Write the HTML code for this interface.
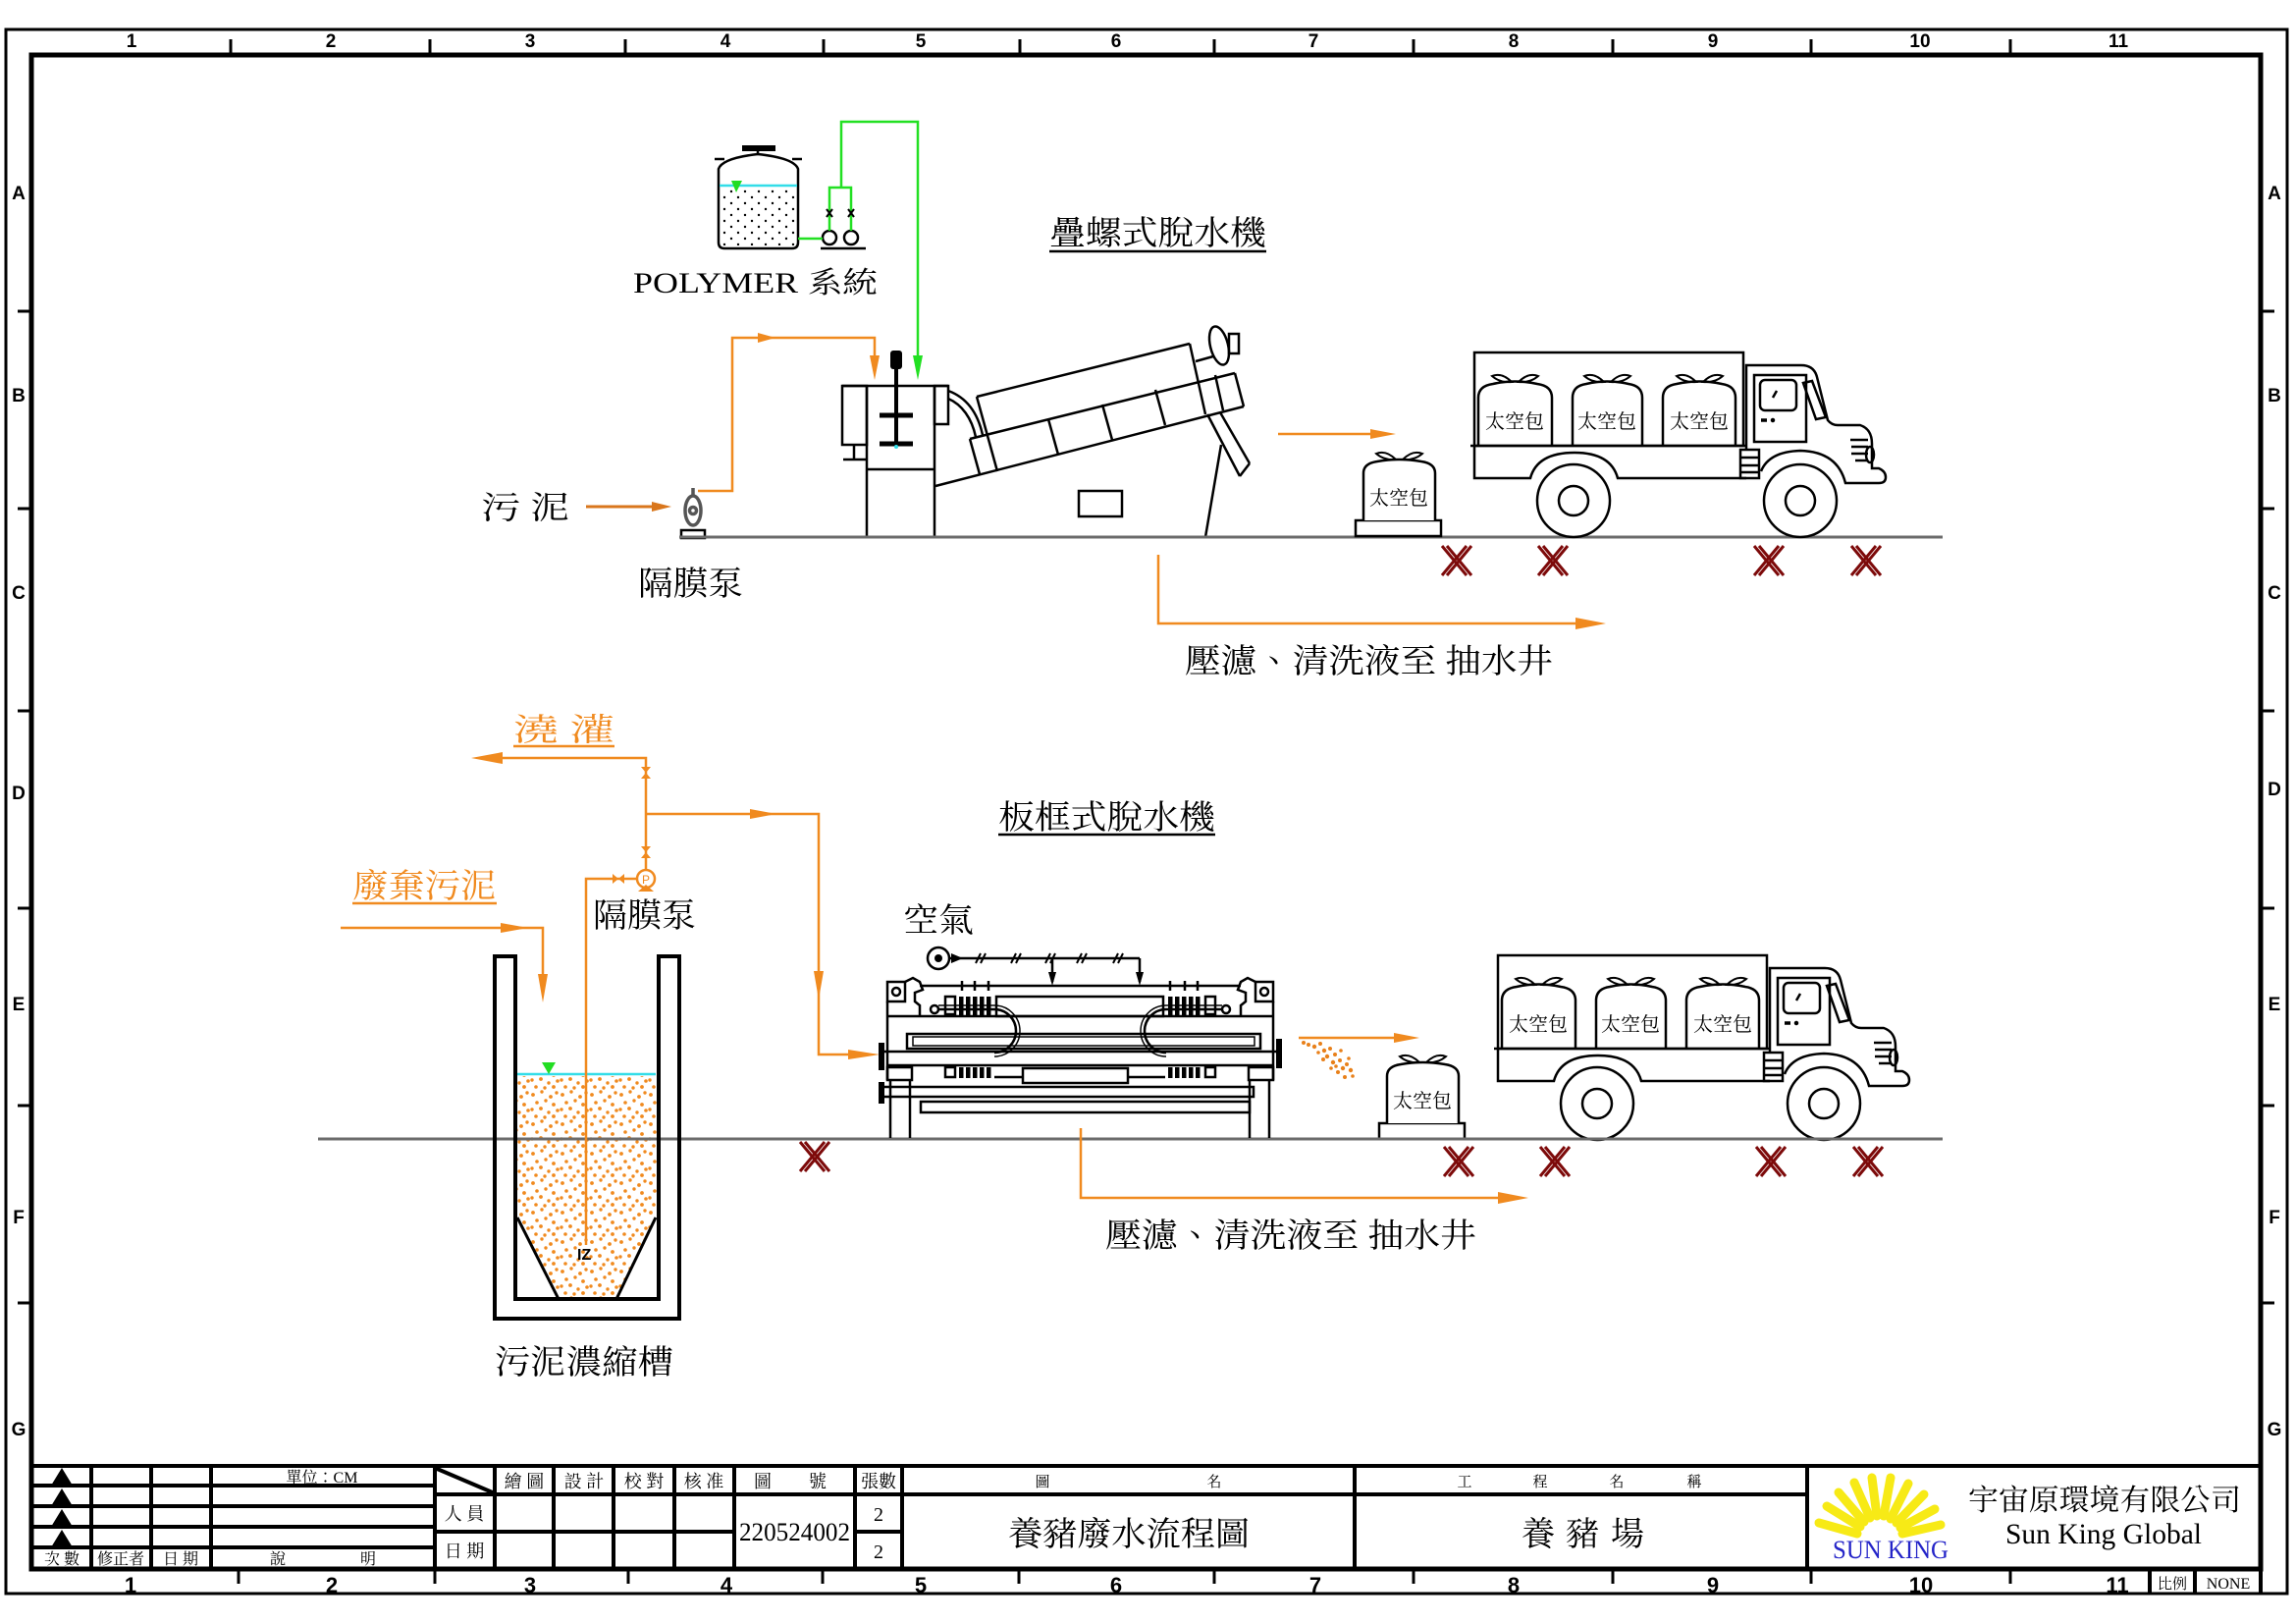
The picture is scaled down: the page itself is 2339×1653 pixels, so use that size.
<!DOCTYPE html>
<html><head><meta charset="utf-8"><title>養豬廢水流程圖</title>
<style>
html,body{margin:0;padding:0;background:#fff;}
svg{display:block;}
.s{font-family:"Liberation Serif","Noto Serif CJK TC","Noto Serif CJK SC",serif;}
.b{font-family:"Liberation Sans",sans-serif;font-weight:bold;}
</style></head>
<body>
<svg xmlns="http://www.w3.org/2000/svg" width="2339" height="1653" viewBox="0 0 2339 1653">
<defs>
<pattern id="sl" width="30" height="30" patternUnits="userSpaceOnUse">
<g fill="#f08a1f">
<circle cx="3" cy="5" r="1.9"/><circle cx="12" cy="2" r="1.7"/><circle cx="21" cy="7" r="1.9"/><circle cx="27" cy="3" r="1.7"/>
<circle cx="7" cy="13" r="1.8"/><circle cx="16" cy="11" r="1.7"/><circle cx="24" cy="15" r="1.9"/>
<circle cx="2" cy="20" r="1.7"/><circle cx="11" cy="19" r="1.9"/><circle cx="19" cy="23" r="1.7"/><circle cx="28" cy="21" r="1.8"/>
<circle cx="6" cy="27" r="1.8"/><circle cx="15" cy="28" r="1.7"/><circle cx="24" cy="27" r="1.9"/>
</g>
</pattern>
<pattern id="pd" width="14" height="12" patternUnits="userSpaceOnUse">
<circle cx="3" cy="3" r="1.2" fill="#000"/><circle cx="10" cy="9" r="1.2" fill="#000"/>
</pattern>
<clipPath id="tankclip"><polygon points="527,1096 669,1096 669,1240 628,1321 569,1321 527,1240"/></clipPath>
</defs>

<!-- FRAME -->
<rect x="6" y="30" width="2324" height="1593" fill="none" stroke="#000" stroke-width="3"/>
<rect x="32" y="56" width="2271" height="1542" fill="none" stroke="#000" stroke-width="5"/>
<line x1="2303" y1="1598" x2="2303" y2="1623" stroke="#000" stroke-width="4"/>

<g class="b" font-size="19" text-anchor="middle">
<text x="134" y="48">1</text><text x="337" y="48">2</text><text x="540" y="48">3</text><text x="739" y="48">4</text><text x="938" y="48">5</text><text x="1137" y="48">6</text><text x="1338" y="48">7</text><text x="1542" y="48">8</text><text x="1745" y="48">9</text><text x="1956" y="48">10</text><text x="2158" y="48">11</text>
</g>
<g stroke="#000" stroke-width="3">
<line x1="235" y1="40" x2="235" y2="56"/><line x1="438" y1="40" x2="438" y2="56"/><line x1="637" y1="40" x2="637" y2="56"/><line x1="839" y1="40" x2="839" y2="56"/><line x1="1039" y1="40" x2="1039" y2="56"/><line x1="1237" y1="40" x2="1237" y2="56"/><line x1="1440" y1="40" x2="1440" y2="56"/><line x1="1643" y1="40" x2="1643" y2="56"/><line x1="1845" y1="40" x2="1845" y2="56"/><line x1="2048" y1="40" x2="2048" y2="56"/>
<line x1="243" y1="1598" x2="243" y2="1613"/><line x1="443" y1="1598" x2="443" y2="1613"/><line x1="640" y1="1598" x2="640" y2="1613"/><line x1="838" y1="1598" x2="838" y2="1613"/><line x1="1038" y1="1598" x2="1038" y2="1613"/><line x1="1237" y1="1598" x2="1237" y2="1613"/><line x1="1440" y1="1598" x2="1440" y2="1613"/><line x1="1643" y1="1598" x2="1643" y2="1613"/><line x1="1845" y1="1598" x2="1845" y2="1613"/><line x1="2048" y1="1598" x2="2048" y2="1613"/>
<line x1="18" y1="317" x2="32" y2="317"/><line x1="18" y1="518" x2="32" y2="518"/><line x1="18" y1="724" x2="32" y2="724"/><line x1="18" y1="925" x2="32" y2="925"/><line x1="18" y1="1126" x2="32" y2="1126"/><line x1="18" y1="1327" x2="32" y2="1327"/>
<line x1="2303" y1="317" x2="2317" y2="317"/><line x1="2303" y1="518" x2="2317" y2="518"/><line x1="2303" y1="724" x2="2317" y2="724"/><line x1="2303" y1="925" x2="2317" y2="925"/><line x1="2303" y1="1126" x2="2317" y2="1126"/><line x1="2303" y1="1327" x2="2317" y2="1327"/>
</g>
<g class="b" font-size="22" text-anchor="middle">
<text x="133" y="1622">1</text><text x="338" y="1622">2</text><text x="540" y="1622">3</text><text x="740" y="1622">4</text><text x="938" y="1622">5</text><text x="1137" y="1622">6</text><text x="1340" y="1622">7</text><text x="1542" y="1622">8</text><text x="1745" y="1622">9</text><text x="1957" y="1622">10</text><text x="2157" y="1622">11</text>
</g>
<g class="b" font-size="19" text-anchor="middle">
<text x="19" y="203">A</text><text x="19" y="409">B</text><text x="19" y="610">C</text><text x="19" y="814">D</text><text x="19" y="1029">E</text><text x="19" y="1246">F</text><text x="19" y="1462">G</text>
<text x="2317" y="203">A</text><text x="2317" y="409">B</text><text x="2317" y="610">C</text><text x="2317" y="810">D</text><text x="2317" y="1029">E</text><text x="2317" y="1246">F</text><text x="2317" y="1462">G</text>
</g>

<!-- TITLE BLOCK -->
<g stroke="#000" stroke-width="4" fill="none">
<line x1="32" y1="1493" x2="2303" y2="1493"/>
<line x1="32" y1="1513" x2="443" y2="1513"/><line x1="32" y1="1534" x2="443" y2="1534"/><line x1="32" y1="1555" x2="443" y2="1555"/><line x1="32" y1="1576" x2="443" y2="1576"/>
<line x1="443" y1="1522" x2="1841" y2="1522"/>
<line x1="443" y1="1560" x2="748" y2="1560"/><line x1="871" y1="1560" x2="919" y2="1560"/>
<line x1="93" y1="1493" x2="93" y2="1598"/><line x1="154" y1="1493" x2="154" y2="1598"/><line x1="215" y1="1493" x2="215" y2="1598"/>
<line x1="443" y1="1493" x2="443" y2="1598"/><line x1="504" y1="1493" x2="504" y2="1598"/><line x1="564" y1="1493" x2="564" y2="1598"/><line x1="625" y1="1493" x2="625" y2="1598"/><line x1="687" y1="1493" x2="687" y2="1598"/><line x1="748" y1="1493" x2="748" y2="1598"/><line x1="871" y1="1493" x2="871" y2="1598"/><line x1="919" y1="1493" x2="919" y2="1598"/><line x1="1380" y1="1493" x2="1380" y2="1598"/><line x1="1841" y1="1493" x2="1841" y2="1598"/>
<line x1="443" y1="1495" x2="504" y2="1521"/>
<line x1="2190" y1="1598" x2="2190" y2="1623"/><line x1="2236" y1="1598" x2="2236" y2="1623"/>
</g>
<g fill="#000">
<polygon points="63,1495 52,1513 74,1513"/><polygon points="63,1516 52,1534 74,1534"/><polygon points="63,1537 52,1555 74,1555"/><polygon points="63,1558 52,1576 74,1576"/>
</g>
<g class="s" font-size="16" text-anchor="middle" fill="#000">
<text x="328" y="1510">單位：CM</text>
<text x="63" y="1593">次 數</text><text x="123" y="1593">修正者</text><text x="184" y="1593">日 期</text><text x="283" y="1593">說</text><text x="375" y="1593">明</text>
</g>
<g class="s" font-size="18" text-anchor="middle" fill="#000">
<text x="473" y="1548">人 員</text><text x="473" y="1586">日 期</text>
<text x="534" y="1515">繪 圖</text><text x="595" y="1515">設 計</text><text x="656" y="1515">校 對</text><text x="717" y="1515">核 准</text><text x="777" y="1515">圖</text><text x="833" y="1515">號</text><text x="895" y="1515">張數</text>
</g>
<text class="s" x="753" y="1569" font-size="26" textLength="113" lengthAdjust="spacingAndGlyphs">220524002</text>
<text class="s" x="895" y="1549" font-size="20" text-anchor="middle">2</text>
<text class="s" x="895" y="1587" font-size="20" text-anchor="middle">2</text>
<g class="s" font-size="15" text-anchor="middle">
<text x="1062" y="1514">圖</text><text x="1237" y="1514">名</text>
<text x="1492" y="1514">工</text><text x="1569" y="1514">程</text><text x="1647" y="1514">名</text><text x="1726" y="1514">稱</text>
</g>
<text class="s" x="1027" y="1574" font-size="34" textLength="246" lengthAdjust="spacingAndGlyphs">養豬廢水流程圖</text>
<g class="s" font-size="34" text-anchor="middle"><text x="1567" y="1574">養</text><text x="1612" y="1574">豬</text><text x="1658" y="1574">場</text></g>
<!-- logo -->
<g stroke="#f7ea16" stroke-width="9" stroke-linecap="round">
<line x1="1892" y1="1562" x2="1853" y2="1551"/><line x1="1895" y1="1555" x2="1861" y2="1534"/><line x1="1899" y1="1550" x2="1873" y2="1520"/><line x1="1905" y1="1546" x2="1889" y2="1510"/><line x1="1912" y1="1544" x2="1907" y2="1505"/><line x1="1919" y1="1544" x2="1926" y2="1505"/><line x1="1926" y1="1547" x2="1944" y2="1511"/><line x1="1932" y1="1551" x2="1960" y2="1522"/><line x1="1936" y1="1556" x2="1971" y2="1537"/><line x1="1938" y1="1562" x2="1977" y2="1553"/>
</g>
<text class="s" x="1867" y="1587" font-size="26" fill="#2424c8" textLength="118" lengthAdjust="spacingAndGlyphs">SUN KING</text>
<text class="s" x="2005" y="1538" font-size="30" textLength="278" lengthAdjust="spacingAndGlyphs">宇宙原環境有限公司</text>
<text class="s" x="2043" y="1572" font-size="30" textLength="200" lengthAdjust="spacingAndGlyphs">Sun King Global</text>
<text class="s" x="2213" y="1618" font-size="15" text-anchor="middle">比例</text>
<text class="s" x="2270" y="1618" font-size="16" text-anchor="middle">NONE</text>

<!-- ================= UPPER SECTION ================= -->
<!-- polymer tank -->
<rect x="734" y="191" width="77" height="59" fill="url(#pd)"/>
<g stroke="#000" stroke-width="2.5" fill="none">
<path d="M732,247 L732,172 Q736,161 772,157 Q809,161 813,172 L813,247 Q813,253 807,253 L738,253 Q732,253 732,247 Z"/>
<line x1="728" y1="162" x2="738" y2="162"/><line x1="807" y1="162" x2="817" y2="162"/>
<line x1="772" y1="154" x2="772" y2="158"/>
<line x1="836" y1="253" x2="882" y2="253"/>
<circle cx="845" cy="242" r="7"/><circle cx="867" cy="242" r="7"/>
</g>
<rect x="756" y="148" width="34" height="6" fill="#000"/>
<line x1="733" y1="189" x2="812" y2="189" stroke="#33dde8" stroke-width="2.5"/>
<polygon points="745,184 756,184 750,196" fill="#22dd22"/>
<g stroke="#22e022" stroke-width="2.5" fill="none">
<polyline points="813,243 838,243"/>
<polyline points="845,235 845,191 867,191 867,235"/>
<polyline points="857,191 857,124 935,124 935,366"/>
</g>
<polygon points="930,362 940,362 935,387" fill="#22e022"/>
<g stroke="#000" stroke-width="2">
<line x1="842" y1="213" x2="848" y2="221"/><line x1="848" y1="213" x2="842" y2="221"/>
<line x1="864" y1="213" x2="870" y2="221"/><line x1="870" y1="213" x2="864" y2="221"/>
</g>
<text class="s" x="645" y="298" font-size="30" textLength="249" lengthAdjust="spacingAndGlyphs">POLYMER 系統</text>

<!-- diaphragm pump upper -->
<g stroke="#555" stroke-width="3.5" fill="none">
<ellipse cx="706" cy="520" rx="8" ry="15"/>
<circle cx="706" cy="520" r="3.5"/>
<line x1="706" y1="497" x2="706" y2="505"/>
</g>
<rect x="694" y="540" width="24" height="8" fill="none" stroke="#000" stroke-width="2.5"/>
<line x1="597" y1="516" x2="666" y2="516" stroke="#d9761c" stroke-width="3"/>
<polygon points="664,511 664,521 684,516" fill="#d9761c"/>
<text class="s" x="490" y="528" font-size="32" textLength="91" lengthAdjust="spacingAndGlyphs">污 泥</text>
<text class="s" x="650" y="606" font-size="34" textLength="107" lengthAdjust="spacingAndGlyphs">隔膜泵</text>
<g stroke="#f08a1f" stroke-width="2.5" fill="none">
<polyline points="711,500 746,500 746,344 891,344 891,366"/>
</g>
<polygon points="772,339 772,349 790,344" fill="#f08a1f"/>
<polygon points="886,362 896,362 891,387" fill="#f08a1f"/>

<!-- screw press -->
<g stroke="#000" stroke-width="2.5" fill="none">
<rect x="858" y="393" width="25" height="60"/>
<line x1="858" y1="393" x2="966" y2="393"/>
<line x1="883" y1="393" x2="883" y2="547"/>
<line x1="952" y1="393" x2="952" y2="547"/>
<line x1="883" y1="478" x2="952" y2="478"/>
<rect x="952" y="393" width="14" height="39"/>
<line x1="870" y1="453" x2="870" y2="468"/>
<line x1="859" y1="468" x2="883" y2="468"/>
<path d="M966,398 C985,405 996,420 1001,443"/>
<path d="M966,406 C980,412 990,426 994,445"/>
<line x1="995" y1="404" x2="1212" y2="350"/>
<line x1="1212" y1="350" x2="1228" y2="422"/>
<line x1="995" y1="404" x2="1016" y2="480"/>
<line x1="988" y1="447" x2="1258" y2="380"/>
<line x1="953" y1="495" x2="1267" y2="414"/>
<line x1="988" y1="447" x2="998" y2="483"/>
<line x1="1258" y1="380" x2="1267" y2="414"/>
<line x1="1068" y1="427" x2="1078" y2="463"/>
<line x1="1123" y1="412" x2="1133" y2="448"/>
<line x1="1177" y1="397" x2="1187" y2="433"/>
<line x1="1238" y1="382" x2="1246" y2="418"/>
<ellipse cx="1242" cy="352" rx="9" ry="20" transform="rotate(-14 1242 352)"/>
<rect x="1252" y="340" width="10" height="20"/>
<line x1="1218" y1="368" x2="1236" y2="363"/>
<line x1="1230" y1="422" x2="1263" y2="485"/>
<line x1="1243" y1="420" x2="1273" y2="472"/>
<line x1="1263" y1="485" x2="1273" y2="472"/>
<line x1="1244" y1="453" x2="1228" y2="547"/>
<rect x="1099" y="500" width="44" height="26"/>
</g>
<rect x="907" y="357" width="12" height="19" rx="3" fill="#000"/>
<line x1="913" y1="376" x2="913" y2="453" stroke="#000" stroke-width="4"/>
<line x1="896" y1="423" x2="930" y2="423" stroke="#000" stroke-width="5"/>
<line x1="896" y1="452" x2="930" y2="452" stroke="#000" stroke-width="5"/>
<circle cx="913" cy="455" r="2" fill="#33dde8"/>
<text class="s" x="1069" y="249" font-size="34" textLength="221" lengthAdjust="spacingAndGlyphs">疊螺式脫水機</text>
<line x1="1069" y1="256" x2="1290" y2="256" stroke="#000" stroke-width="2.5"/>

<!-- ground upper -->
<line x1="692" y1="547" x2="1979" y2="547" stroke="#6b6b6b" stroke-width="3"/>

<!-- filtrate upper -->
<polyline points="1180,565 1180,635 1608,635" fill="none" stroke="#f08a1f" stroke-width="2.5"/>
<polygon points="1605,629 1605,641 1636,635" fill="#f08a1f"/>
<text class="s" x="1207" y="685" font-size="34" textLength="375" lengthAdjust="spacingAndGlyphs">壓濾、清洗液至 抽水井</text>
<!-- cake arrow upper -->
<line x1="1302" y1="442" x2="1400" y2="442" stroke="#f08a1f" stroke-width="2.5"/>
<polygon points="1396,437 1396,447 1422,442" fill="#f08a1f"/>

<!-- single bag + truck (upper) -->
<g id="trk" stroke="#000" stroke-width="2.5" fill="none">
<rect x="1381" y="530" width="87" height="16" fill="#fff"/>
<path d="M1389,530 L1389,482 Q1389,472 1403,470 Q1425,466 1448,470 Q1462,472 1462,482 L1462,530" fill="#fff"/>
<path d="M1422,468 Q1412,458 1402,462 Q1410,469 1422,468 Z M1429,468 Q1439,458 1449,462 Q1441,469 1429,468 Z" stroke-width="2"/>
<rect x="1502" y="359" width="274" height="95"/>
<line x1="1498" y1="454" x2="1779" y2="454"/>
<path d="M1502,454 L1502,487 L1559,487 Q1566,461 1604,461 Q1641,461 1648,487 L1779,487"/>
<path d="M1506,454 L1506,405 Q1506,393 1521,391 Q1543,386 1566,391 Q1581,393 1581,405 L1581,454"/>
<path d="M1540,389 Q1530,379 1520,383 Q1528,390 1540,389 Z M1547,389 Q1557,379 1567,383 Q1559,390 1547,389 Z" stroke-width="2"/>
<path d="M1602,454 L1602,405 Q1602,393 1616,391 Q1637,386 1659,391 Q1673,393 1673,405 L1673,454"/>
<path d="M1634,389 Q1624,379 1614,383 Q1622,390 1634,389 Z M1641,389 Q1651,379 1661,383 Q1653,390 1641,389 Z" stroke-width="2"/>
<path d="M1694,454 L1694,405 Q1694,393 1708,391 Q1731,386 1754,391 Q1768,393 1768,405 L1768,454"/>
<path d="M1728,389 Q1718,379 1708,383 Q1716,390 1728,389 Z M1735,389 Q1745,379 1755,383 Q1747,390 1735,389 Z" stroke-width="2"/>
<rect x="1773" y="458" width="19" height="29"/>
<line x1="1773" y1="466" x2="1792" y2="466"/><line x1="1773" y1="474" x2="1792" y2="474"/><line x1="1773" y1="481" x2="1792" y2="481"/>
<path d="M1779,458 L1779,372 L1835,372 Q1848,372 1851,384 L1862,428 Q1866,433 1872,433 L1895,433 Q1907,437 1907,452 L1907,477 L1914,477 Q1921,480 1921,486 Q1921,492 1914,492 L1880,492 Q1872,460 1834,459 Q1802,460 1794,480"/>
<rect x="1787" y="382" width="53" height="68"/>
<rect x="1793" y="387" width="37" height="31" rx="5"/>
<line x1="1806" y1="405" x2="1810" y2="398"/>
<line x1="1794" y1="428" x2="1800" y2="428" stroke-width="3.5"/>
<circle cx="1806" cy="428" r="1" fill="#000"/>
<polygon points="1837,390 1846,388 1860,425 1850,427"/>
<line x1="1885" y1="448" x2="1903" y2="448"/><line x1="1886" y1="455" x2="1903" y2="455"/><line x1="1886" y1="462" x2="1903" y2="462"/><line x1="1890" y1="469" x2="1903" y2="469"/>
<ellipse cx="1905" cy="463" rx="4" ry="8"/>
<circle cx="1603" cy="510" r="37" fill="#fff"/><circle cx="1603" cy="510" r="15"/>
<circle cx="1834" cy="510" r="37" fill="#fff"/><circle cx="1834" cy="510" r="15"/>
<g class="s" font-size="20" text-anchor="middle" fill="#000" stroke="none">
<text x="1425" y="514">太空包</text><text x="1543" y="436">太空包</text><text x="1637" y="436">太空包</text><text x="1731" y="436">太空包</text>
</g>
</g>

<!-- red marks -->
<g id="mk" stroke="#7d0a0a" stroke-width="3">
<path d="M1469,556 L1494,586 M1474,556 L1499,586 M1494,556 L1469,586 M1499,556 L1474,586"/>
<path d="M1567,556 L1592,586 M1572,556 L1597,586 M1592,556 L1567,586 M1597,556 L1572,586"/>
<path d="M1787,556 L1812,586 M1792,556 L1817,586 M1812,556 L1787,586 M1817,556 L1792,586"/>
<path d="M1886,556 L1911,586 M1891,556 L1916,586 M1911,556 L1886,586 M1916,556 L1891,586"/>
</g>
<use href="#mk" transform="translate(2,612)"/>
<path d="M815,1163 L840,1193 M820,1163 L845,1193 M840,1163 L815,1193 M845,1163 L820,1193" stroke="#7d0a0a" stroke-width="3"/>

<!-- ================= LOWER SECTION ================= -->
<use href="#trk" transform="translate(24,614)"/>

<!-- sludge tank -->
<rect x="527" y="1096" width="142" height="226" fill="url(#sl)" clip-path="url(#tankclip)"/>
<line x1="324" y1="1160" x2="1979" y2="1160" stroke="#6b6b6b" stroke-width="3"/>
<line x1="527" y1="1094" x2="668" y2="1094" stroke="#33dde8" stroke-width="2.5"/>
<polygon points="552,1082 566,1082 559,1094" fill="#22dd22"/>
<path d="M504,974 L504,1343 L692,1343 L692,974 L671,974 L671,1323 L525,1323 L525,974 Z" fill="none" stroke="#000" stroke-width="4"/>
<line x1="527" y1="1240" x2="569" y2="1323" stroke="#000" stroke-width="3"/>
<line x1="668" y1="1240" x2="628" y2="1323" stroke="#000" stroke-width="3"/>
<text class="b" x="588" y="1283" font-size="16">IZ</text>
<text class="s" x="504" y="1399" font-size="34" textLength="182" lengthAdjust="spacingAndGlyphs">污泥濃縮槽</text>

<!-- lower orange piping -->
<g stroke="#f08a1f" stroke-width="2.5" fill="none">
<polyline points="347,945 553,945 553,995"/>
<polyline points="510,772 658,772 658,886"/>
<polyline points="658,829 834,829 834,1074 866,1074"/>
<polyline points="649,895 597,895 597,1268"/>
<circle cx="658" cy="895" r="9"/>
</g>
<g fill="#f08a1f">
<polygon points="510,940 510,950 538,945"/>
<polygon points="548,992 558,992 553,1021"/>
<polygon points="512,766 512,778 480,772"/>
<polygon points="764,824 764,834 791,829"/>
<polygon points="829,989 839,989 834,1018"/>
<polygon points="864,1069 864,1079 896,1074"/>
<polygon points="653,781 663,781 658,787 653,793 663,793 658,787"/>
<polygon points="653,862 663,862 658,868 653,874 663,874 658,868"/>
<polygon points="624,890 624,900 630,895 636,890 636,900 630,895"/>
<polygon points="650,908 666,908 658,901"/>
</g>
<text x="658" y="900" font-family="Liberation Sans,sans-serif" font-size="12" fill="#f08a1f" text-anchor="middle">P</text>
<text class="s" x="523" y="754" font-size="32" fill="#f08a1f" textLength="103" lengthAdjust="spacingAndGlyphs">澆 灌</text>
<line x1="523" y1="760" x2="626" y2="760" stroke="#f08a1f" stroke-width="2.5"/>
<text class="s" x="359" y="914" font-size="34" fill="#f08a1f" textLength="147" lengthAdjust="spacingAndGlyphs">廢棄污泥</text>
<line x1="359" y1="920" x2="506" y2="920" stroke="#f08a1f" stroke-width="2.5"/>
<text class="s" x="604" y="944" font-size="34" textLength="105" lengthAdjust="spacingAndGlyphs">隔膜泵</text>
<text class="s" x="920" y="949" font-size="34" textLength="72" lengthAdjust="spacingAndGlyphs">空氣</text>
<text class="s" x="1017" y="844" font-size="34" textLength="221" lengthAdjust="spacingAndGlyphs">板框式脫水機</text>
<line x1="1017" y1="850" x2="1238" y2="850" stroke="#000" stroke-width="2.5"/>

<!-- filter press -->
<g stroke="#000" stroke-width="2.5" fill="none">
<circle cx="956" cy="976" r="11"/>
<line x1="967" y1="976" x2="1161" y2="976"/>
<line x1="1072" y1="976" x2="1072" y2="1000"/>
<line x1="1161" y1="976" x2="1161" y2="1000"/>
<path d="M994,981 L999,971 M999,981 L1004,971 M1030,981 L1035,971 M1035,981 L1040,971 M1065,981 L1070,971 M1070,981 L1075,971 M1097,981 L1102,971 M1102,981 L1107,971 M1134,981 L1139,971 M1139,981 L1144,971" stroke-width="2"/>
<line x1="937" y1="1004" x2="1264" y2="1004"/>
<path d="M980,999 L980,1009 M993,999 L993,1009 M1007,999 L1007,1009 M1192,999 L1192,1009 M1207,999 L1207,1009 M1220,999 L1220,1009"/>
<rect x="904" y="1000" width="18" height="20"/>
<circle cx="913" cy="1010" r="4"/>
<path d="M922,1000 L930,996 L937,1000 L940,1008 L932,1011 L932,1020 L937,1024 L937,1035"/>
<rect x="1279" y="1000" width="18" height="20"/>
<circle cx="1288" cy="1010" r="4"/>
<path d="M1279,1000 L1271,996 L1264,1000 L1261,1008 L1269,1011 L1269,1020 L1264,1024 L1264,1035"/>
<line x1="904" y1="1020" x2="904" y2="1100"/>
<line x1="1297" y1="1020" x2="1297" y2="1100"/>
<rect x="1015" y="1015" width="170" height="20"/>
<rect x="963" y="1015" width="10" height="18"/>
<rect x="1228" y="1015" width="10" height="18"/>
<line x1="904" y1="1035" x2="1297" y2="1035"/>
<circle cx="952" cy="1028" r="4"/>
<path d="M956,1028 L1013,1028 A22,22 0 0 1 1013,1072"/>
<path d="M956,1024 L1013,1024 A26,26 0 0 1 1013,1076" stroke-width="1.5"/>
<circle cx="1249" cy="1028" r="4"/>
<path d="M1245,1028 L1188,1028 A22,22 0 0 0 1188,1072"/>
<path d="M1245,1024 L1188,1024 A26,26 0 0 0 1188,1076" stroke-width="1.5"/>
<rect x="924" y="1053" width="360" height="15"/>
<rect x="930" y="1056" width="348" height="9" stroke-width="1.5"/>
<line x1="900" y1="1071" x2="1301" y2="1071"/>
<line x1="904" y1="1085" x2="1297" y2="1085"/>
<rect x="963" y="1087" width="10" height="10"/>
<line x1="1013" y1="1097" x2="1042" y2="1097"/>
<rect x="1042" y="1088" width="107" height="15"/>
<line x1="1149" y1="1097" x2="1187" y2="1097"/>
<rect x="1228" y="1087" width="10" height="10"/>
<rect x="904" y="1087" width="25" height="13"/>
<rect x="1272" y="1087" width="25" height="13"/>
<rect x="897" y="1107" width="380" height="10"/>
<rect x="938" y="1122" width="335" height="11"/>
<line x1="907" y1="1100" x2="907" y2="1159"/><line x1="927" y1="1100" x2="927" y2="1159"/>
<line x1="1273" y1="1100" x2="1273" y2="1159"/><line x1="1293" y1="1100" x2="1293" y2="1159"/>
</g>
<circle cx="956" cy="976" r="4" fill="#000"/>
<polygon points="969,971 969,981 981,976" fill="#000"/>
<polygon points="1068,990 1076,990 1072,1004" fill="#000"/>
<polygon points="1157,990 1165,990 1161,1004" fill="#000"/>
<g fill="#000">
<rect x="977" y="1015" width="4.5" height="20"/><rect x="984" y="1015" width="4.5" height="20"/><rect x="991" y="1015" width="4.5" height="20"/><rect x="998" y="1015" width="4.5" height="20"/><rect x="1005" y="1015" width="4.5" height="20"/>
<rect x="1190" y="1015" width="4.5" height="20"/><rect x="1197" y="1015" width="4.5" height="20"/><rect x="1204" y="1015" width="4.5" height="20"/><rect x="1211" y="1015" width="4.5" height="20"/><rect x="1218" y="1015" width="4.5" height="20"/>
<rect x="977" y="1087" width="4.5" height="11"/><rect x="984" y="1087" width="4.5" height="11"/><rect x="991" y="1087" width="4.5" height="11"/><rect x="998" y="1087" width="4.5" height="11"/><rect x="1005" y="1087" width="4.5" height="11"/>
<rect x="1190" y="1087" width="4.5" height="11"/><rect x="1197" y="1087" width="4.5" height="11"/><rect x="1204" y="1087" width="4.5" height="11"/><rect x="1211" y="1087" width="4.5" height="11"/><rect x="1218" y="1087" width="4.5" height="11"/>
<rect x="895" y="1062" width="6" height="28"/><rect x="895" y="1102" width="6" height="22"/>
<rect x="1300" y="1058" width="6" height="30"/>
</g>
<!-- cake + arrows lower -->
<line x1="1323" y1="1057" x2="1424" y2="1057" stroke="#f08a1f" stroke-width="2.5"/>
<polygon points="1420,1052 1420,1062 1446,1057" fill="#f08a1f"/>
<g fill="#e8801a">
<circle cx="1328" cy="1062" r="2"/><circle cx="1333" cy="1064" r="2"/><circle cx="1339" cy="1066" r="2.2"/><circle cx="1345" cy="1063" r="2"/><circle cx="1349" cy="1070" r="2.2"/><circle cx="1355" cy="1068" r="2"/><circle cx="1352" cy="1076" r="2.2"/><circle cx="1360" cy="1074" r="2"/><circle cx="1358" cy="1082" r="2.2"/><circle cx="1365" cy="1080" r="2"/><circle cx="1368" cy="1088" r="2.2"/><circle cx="1372" cy="1084" r="2"/><circle cx="1363" cy="1092" r="2"/><circle cx="1376" cy="1090" r="2.2"/><circle cx="1378" cy="1096" r="1.8"/><circle cx="1370" cy="1097" r="2"/><circle cx="1343" cy="1072" r="1.8"/><circle cx="1348" cy="1079" r="2"/><circle cx="1356" cy="1088" r="1.8"/><circle cx="1366" cy="1070" r="1.8"/><circle cx="1374" cy="1078" r="1.8"/><circle cx="1361" cy="1086" r="1.8"/>
</g>
<polyline points="1101,1149 1101,1220 1528,1220" fill="none" stroke="#f08a1f" stroke-width="2.5"/>
<polygon points="1526,1214 1526,1226 1557,1220" fill="#f08a1f"/>
<text class="s" x="1126" y="1270" font-size="34" textLength="378" lengthAdjust="spacingAndGlyphs">壓濾、清洗液至 抽水井</text>
</svg>
</body></html>
